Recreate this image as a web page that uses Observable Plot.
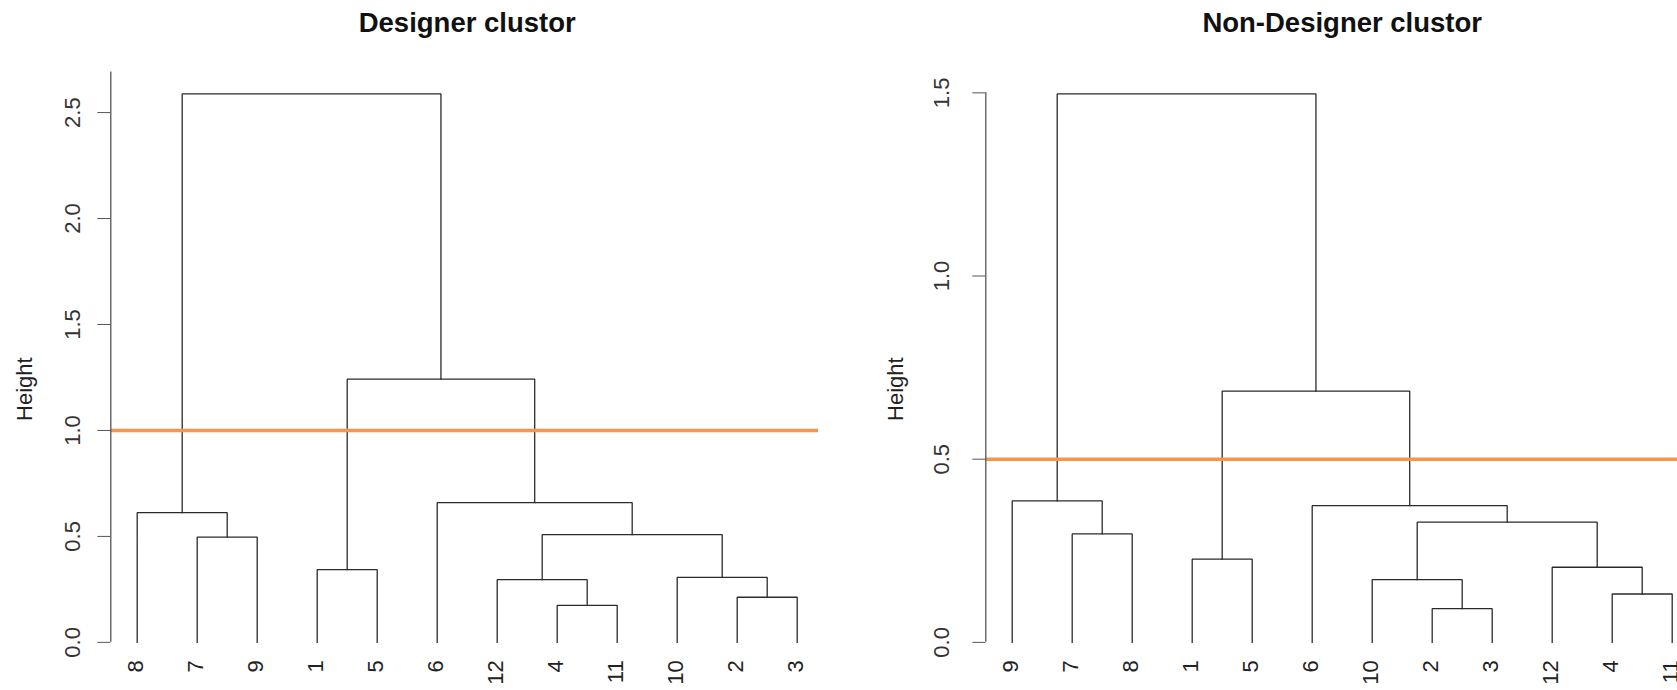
<!DOCTYPE html>
<html><head><meta charset="utf-8">
<script src="https://cdn.jsdelivr.net/npm/d3@7"></script>
<script src="https://cdn.jsdelivr.net/npm/@observablehq/plot@0.6"></script>
<style>
html,body{margin:0;padding:0;background:#fff;overflow:hidden;}
#wrap{position:relative;width:1677px;height:690px;overflow:hidden;}
#wrap svg{position:absolute;top:0;overflow:hidden;max-width:none;}
</style></head><body><div id="wrap"></div>
<script>
// ---- Designer dendrogram ----
const designerTitle = "Designer clustor";
const designerLeaves = ["8","7","9","1","5","6","12","4","11","10","2","3"];
// [child A, child B, merge height]; "mN" = N-th merge
const designerMerges = [
  ["4","11",0.175],
  ["2","3",0.213],
  ["12","m1",0.296],
  ["10","m2",0.307],
  ["1","5",0.343],
  ["7","9",0.497],
  ["m3","m4",0.508],
  ["8","m6",0.612],
  ["6","m7",0.659],
  ["m5","m9",1.242],
  ["m8","m10",2.588]
];
const designerTicks = [0,0.5,1,1.5,2,2.5,3];
const designerCut = 1.0;

// ---- Non-Designer dendrogram ----
const nonDesignerTitle = "Non-Designer clustor";
const nonDesignerLeaves = ["9","7","8","1","5","6","10","2","3","12","4","11"];
const nonDesignerMerges = [
  ["2","3",0.092],
  ["4","11",0.132],
  ["10","m1",0.171],
  ["12","m2",0.205],
  ["1","5",0.227],
  ["7","8",0.296],
  ["m3","m4",0.328],
  ["6","m7",0.373],
  ["9","m6",0.386],
  ["m5","m8",0.686],
  ["m9","m10",1.497]
];
const nonDesignerTicks = [0,0.5,1,1.5];
const nonDesignerCut = 0.5;

const yLabel = "Height";
const ORANGE = "#f5964a";
const FONT = "'Liberation Sans', Arial, Helvetica, sans-serif";

function dendroPaths(leaves, merges) {
  const pos = new Map(leaves.map((l, i) => [l, {x: i + 1, h: 0}]));
  const pts = [];
  merges.forEach(([a, b, h], i) => {
    const A = pos.get(a), B = pos.get(b), id = "m" + (i + 1);
    pts.push({id, x: A.x, y: A.h}, {id, x: A.x, y: h}, {id, x: B.x, y: h}, {id, x: B.x, y: B.h});
    pos.set(id, {x: (A.x + B.x) / 2, h});
  });
  return pts;
}

function panel({title, leaves, merges, ticks, cut, width, left, marginLeft, marginRight, tickPad, ylabDx, cutInsetRight}) {
  const n = leaves.length;
  const ymax = d3.max(merges, d => d[2]);
  const xDomain = [1 - 0.04 * (n - 1), n + 0.04 * (n - 1)];
  const yDomain = [-0.04 * ymax, 1.04 * ymax];
  const shownTicks = ticks.filter(t => t <= yDomain[1]);
  const axisTop = Math.min(d3.max(ticks), yDomain[1]);
  const svg = Plot.plot({
    width, height: 690,
    marginTop: 71.5, marginBottom: 26.2, marginLeft, marginRight,
    x: {domain: xDomain, axis: null},
    y: {domain: yDomain, axis: null},
    style: {fontFamily: FONT, background: "white", color: "#222"},
    marks: [
      Plot.line(dendroPaths(leaves, merges), {x: "x", y: "y", z: "id", stroke: "#2b2b2b", strokeWidth: 1.3, strokeLinejoin: "miter", strokeLinecap: "square"}),
      Plot.ruleY([cut], {stroke: ORANGE, strokeWidth: 3.6, insetRight: cutInsetRight}),
      Plot.ruleX([xDomain[0]], {y1: 0, y2: axisTop, stroke: "#555", strokeWidth: 1.3}),
      Plot.axisY(shownTicks, {anchor: "left", tickSize: 13, tickPadding: tickPad, tickRotate: -90,
        textAnchor: "middle", lineAnchor: "bottom", fontSize: 22, tickFormat: d3.format(".1f"),
        label: null, stroke: "#555", fill: "#333"}),
      Plot.text(leaves, {x: (d, i) => i + 1, y: 0, text: d => d, rotate: -90, textAnchor: "end",
        lineAnchor: "middle", dy: 18, dx: -1.5, fontSize: 22, fill: "#222"}),
      Plot.text([yLabel], {frameAnchor: "left", rotate: -90, textAnchor: "middle", lineAnchor: "bottom",
        dx: ylabDx, dy: 21, fontSize: 22, fill: "#222"}),
      Plot.text([title], {frameAnchor: "top", lineAnchor: "bottom", dy: -40, fontSize: 27.5,
        fontWeight: "bold", fill: "#111"})
    ]
  });
  svg.style.left = left + "px";
  return svg;
}

const wrap = document.getElementById("wrap");
wrap.appendChild(panel({title: designerTitle, leaves: designerLeaves, merges: designerMerges,
  ticks: designerTicks, cut: designerCut, width: 838, left: 0, marginLeft: 110.3, marginRight: 14.9,
  tickPad: 17.8, ylabDx: -78.6, cutInsetRight: 5}));
wrap.appendChild(panel({title: nonDesignerTitle, leaves: nonDesignerLeaves, merges: nonDesignerMerges,
  ticks: nonDesignerTicks, cut: nonDesignerCut, width: 839, left: 838, marginLeft: 147.3, marginRight: -21.1,
  tickPad: 23.7, ylabDx: -83.3, cutInsetRight: 0}));
</script></body></html>
